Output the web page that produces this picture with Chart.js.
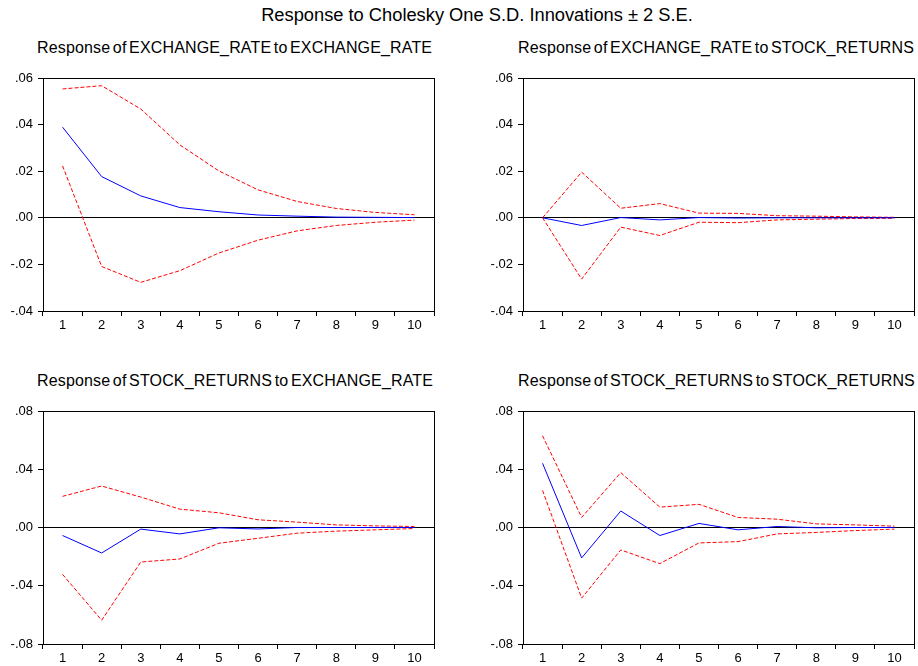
<!DOCTYPE html>
<html>
<head>
<meta charset="utf-8">
<script src="https://cdn.jsdelivr.net/npm/chart.js@4.4.1/dist/chart.umd.min.js"></script>
<style>
  html, body { margin: 0; padding: 0; background: #fff; }
  body { width: 918px; height: 666px; position: relative; overflow: hidden; font-family: "Liberation Sans", Arial, sans-serif; }
  .title { position: absolute; left: 18px; width: 918px; top: 4px; text-align: center; font-size: 18.3px; color: #000; white-space: nowrap; }
  .sub { position: absolute; font-size: 16px; color: #000; word-spacing: -2px; letter-spacing: 0.15px; white-space: nowrap; }
  canvas { position: absolute; }
</style>
</head>
<body>
<div class="title">Response to Cholesky One S.D. Innovations ± 2 S.E.</div>
<div class="sub" id="s1" style="left:37px; top:39px;">Response of EXCHANGE_RATE to EXCHANGE_RATE</div>
<div class="sub" id="s2" style="left:518px; top:39px;">Response of EXCHANGE_RATE to STOCK_RETURNS</div>
<div class="sub" id="s3" style="left:37px; top:372px;">Response of STOCK_RETURNS to EXCHANGE_RATE</div>
<div class="sub" id="s4" style="left:518px; top:372px;">Response of STOCK_RETURNS to STOCK_RETURNS</div>
<canvas id="c1" width="460" height="283" style="left:0px; top:58px;"></canvas>
<canvas id="c2" width="438" height="283" style="left:480px; top:58px;"></canvas>
<canvas id="c3" width="460" height="283" style="left:0px; top:391px;"></canvas>
<canvas id="c4" width="438" height="283" style="left:480px; top:391px;"></canvas>
<script>
// ---- data ----
const periods = ["1","2","3","4","5","6","7","8","9","10"];

const ticksTop = [-0.04, -0.02, 0.00, 0.02, 0.04, 0.06];
const ticksBottom = [-0.08, -0.04, 0.00, 0.04, 0.08];

// Response of EXCHANGE_RATE to EXCHANGE_RATE
const erEr = [0.0389, 0.0177, 0.0094, 0.0044, 0.0026, 0.0012, 0.0007, 0.0003, 0.0002, 0.0001];
const erErUp = [0.0553, 0.0567, 0.0467, 0.0313, 0.0201, 0.0120, 0.0070, 0.0040, 0.0023, 0.0013];
const erErLo = [0.0223, -0.0209, -0.0277, -0.0227, -0.0151, -0.0096, -0.0056, -0.0033, -0.0019, -0.0010];

// Response of EXCHANGE_RATE to STOCK_RETURNS
const erSr = [0.0000, -0.0033, 0.0001, -0.0009, 0.0001, -0.0001, 0.0000, 0.0000, 0.0000, 0.0000];
const erSrUp = [0.0000, 0.0196, 0.0041, 0.0061, 0.0020, 0.0019, 0.0009, 0.0007, 0.0004, 0.0002];
const erSrLo = [0.0000, -0.0263, -0.0040, -0.0076, -0.0019, -0.0021, -0.0009, -0.0006, -0.0003, -0.0002];

// Response of STOCK_RETURNS to EXCHANGE_RATE
const srEr = [-0.0055, -0.0175, -0.0011, -0.0044, -0.0002, -0.0010, 0.0000, 0.0000, 0.0000, 0.0000];
const srErUp = [0.0214, 0.0285, 0.0209, 0.0126, 0.0101, 0.0053, 0.0037, 0.0018, 0.0011, 0.0007];
const srErLo = [-0.0322, -0.0637, -0.0237, -0.0216, -0.0108, -0.0074, -0.0039, -0.0025, -0.0016, -0.0007];

// Response of STOCK_RETURNS to STOCK_RETURNS
const srSr = [0.0441, -0.0209, 0.0113, -0.0055, 0.0028, -0.0016, 0.0007, -0.0002, 0.0000, 0.0000];
const srSrUp = [0.0630, 0.0069, 0.0377, 0.0140, 0.0159, 0.0069, 0.0057, 0.0025, 0.0018, 0.0009];
const srSrLo = [0.0255, -0.0485, -0.0154, -0.0248, -0.0106, -0.0097, -0.0044, -0.0034, -0.0021, -0.0011];

// ---- drawing ----
function fmt(v) {
  let s = Math.abs(v).toFixed(2).replace(/^0/, '');
  return (v < -1e-9 ? '-' : '') + s;
}

const framePlugin = {
  id: 'frame',
  afterDatasetsDraw(chart) {
    const a = chart.chartArea, ctx = chart.ctx;
    ctx.save();
    ctx.strokeStyle = '#000';
    ctx.lineWidth = 1;
    ctx.strokeRect(Math.round(a.left) + 0.5, Math.round(a.top) + 0.5, Math.round(a.right - a.left), Math.round(a.bottom - a.top));
    ctx.restore();
  }
};

function makeChart(id, mid, up, lo, tickVals, rightPad) {
  const min = tickVals[0], max = tickVals[tickVals.length - 1];
  return new Chart(document.getElementById(id), {
    type: 'line',
    data: {
      labels: periods,
      datasets: [
        { data: mid, borderColor: '#0000ff', borderWidth: 1, pointRadius: 0, tension: 0, fill: false },
        { data: up, borderColor: '#ff0000', borderWidth: 1, borderDash: [4, 2], pointRadius: 0, tension: 0, fill: false },
        { data: lo, borderColor: '#ff0000', borderWidth: 1, borderDash: [4, 2], pointRadius: 0, tension: 0, fill: false }
      ]
    },
    options: {
      responsive: false,
      animation: false,
      devicePixelRatio: 1,
      layout: { padding: { left: 0, right: rightPad, top: 20, bottom: 0 } },
      plugins: { legend: { display: false }, tooltip: { enabled: false }, title: { display: false } },
      scales: {
        x: {
          type: 'category',
          offset: true,
          grid: { display: true, offset: true, drawOnChartArea: false, drawTicks: true, tickLength: 5, tickColor: '#000', color: '#000' },
          border: { display: true, color: '#000', width: 1 },
          ticks: { color: '#000', font: { family: '"Liberation Sans", Arial, sans-serif', size: 13 }, padding: 2, maxRotation: 0, autoSkip: false },
          afterFit(scale) { scale.height = 30; }
        },
        y: {
          min: min, max: max,
          afterBuildTicks(scale) { scale.ticks = tickVals.map(v => ({ value: v })); },
          grid: {
            display: true, drawOnChartArea: true, drawTicks: true, tickLength: 5, tickColor: '#000',
            color: (c) => (c.tick && Math.abs(c.tick.value) < 1e-12 ? '#000' : 'rgba(0,0,0,0)')
          },
          border: { display: true, color: '#000', width: 1 },
          ticks: { color: '#000', font: { family: '"Liberation Sans", Arial, sans-serif', size: 13 }, padding: 5, callback: (v) => fmt(v) },
          afterFit(scale) { scale.width = 43; }
        }
      }
    },
    plugins: [framePlugin]
  });
}

makeChart('c1', erEr, erErUp, erErLo, ticksTop, 26);
makeChart('c2', erSr, erSrUp, erSrLo, ticksTop, 4);
makeChart('c3', srEr, srErUp, srErLo, ticksBottom, 26);
makeChart('c4', srSr, srSrUp, srSrLo, ticksBottom, 4);
</script>
</body>
</html>
